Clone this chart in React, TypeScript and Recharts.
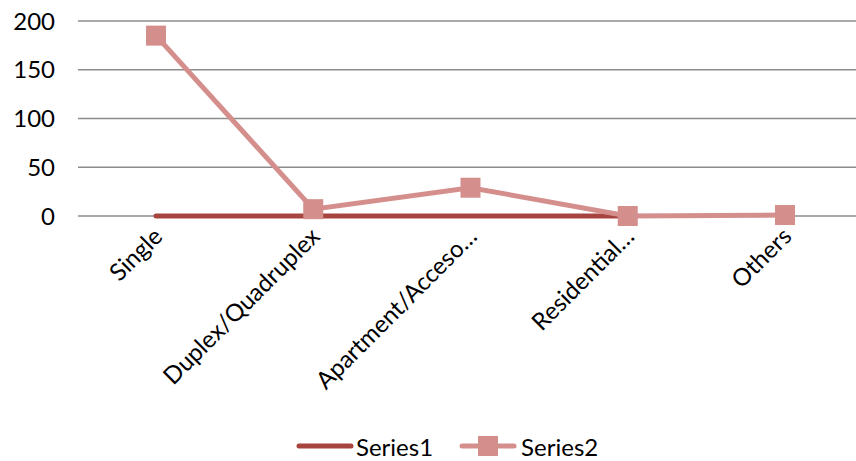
import { CartesianGrid, Legend, Line, LineChart, XAxis, YAxis } from "recharts";

const categories = [
  "Single",
  "Duplex/Quadruplex",
  "Apartment/Acceso…",
  "Residential…",
  "Others"
];
const series1: (number | null)[] = [0, 0, 0, 0, null];
const series2 = [185, 7, 29, 0, 1];
const yTicks = [0, 50, 100, 150, 200];

const FONT = "Lato, 'Open Sans', sans-serif";
const S1_COLOR = "#A8443F";
const S2_COLOR = "#D48F8D";

const chartData = categories.map((name, i) => ({
  name,
  series1: series1[i],
  series2: series2[i]
}));

function AngledTick(props: any): JSX.Element {
  const { x, y, payload } = props;
  return (
    <g transform={`translate(${x + 8},${y + 14})`}>
      <text
        textAnchor="end"
        transform="rotate(-45)"
        fill="#000"
        fontSize={24}
        fontFamily={FONT}
      >
        {payload.value}
      </text>
    </g>
  );
}

function SquareDot(props: any): JSX.Element | null {
  const { cx, cy, value } = props;
  if (value === null || value === undefined) return null;
  return <rect x={cx - 10} y={cy - 10} width={20} height={20} fill={S2_COLOR} />;
}

function LegendBox(): JSX.Element {
  return (
    <div
      style={{
        display: "flex",
        alignItems: "center",
        fontFamily: FONT,
        fontSize: 24,
        color: "#000",
        height: 30,
        paddingLeft: 296
      }}
    >
      <svg width={58} height={20} style={{ marginRight: 2 }}>
        <line x1={3} y1={10} x2={55} y2={10} stroke={S1_COLOR} strokeWidth={5} strokeLinecap="round" />
      </svg>
      <span style={{ marginRight: 26 }}>Series1</span>
      <svg width={58} height={22} style={{ marginRight: 4 }}>
        <line x1={3} y1={11} x2={55} y2={11} stroke={S2_COLOR} strokeWidth={5} strokeLinecap="round" />
        <rect x={19} y={1} width={20} height={20} fill={S2_COLOR} />
      </svg>
      <span>Series2</span>
    </div>
  );
}

export default function App(): JSX.Element {
  return (
    <div
      style={{
        position: "absolute",
        left: 0,
        top: 0,
        width: 856,
        height: 461,
        overflow: "hidden",
        background: "#fff"
      }}
    >
      <LineChart
        width={870}
        height={461}
        data={chartData}
        margin={{ top: 21, right: 7, left: 0, bottom: 0 }}
      >
        <CartesianGrid vertical={false} stroke="#8c8c8c" strokeWidth={1.5} />
        <XAxis
          dataKey="name"
          axisLine={false}
          tickLine={false}
          interval={0}
          height={215}
          padding={{ left: 78, right: 78 }}
          tick={<AngledTick />}
        />
        <YAxis
          width={78}
          domain={[0, 200]}
          ticks={yTicks}
          axisLine={false}
          tickLine={false}
          tickMargin={17}
          tick={{ fill: "#000", fontSize: 24, fontFamily: FONT }}
        />
        <Legend verticalAlign="bottom" height={30} content={<LegendBox />} />
        <Line
          dataKey="series1"
          name="Series1"
          stroke={S1_COLOR}
          strokeWidth={5}
          strokeLinecap="round"
          dot={false}
          activeDot={false}
          isAnimationActive={false}
        />
        <Line
          dataKey="series2"
          name="Series2"
          stroke={S2_COLOR}
          strokeWidth={5}
          strokeLinecap="round"
          dot={<SquareDot />}
          activeDot={false}
          isAnimationActive={false}
        />
      </LineChart>
    </div>
  );
}
